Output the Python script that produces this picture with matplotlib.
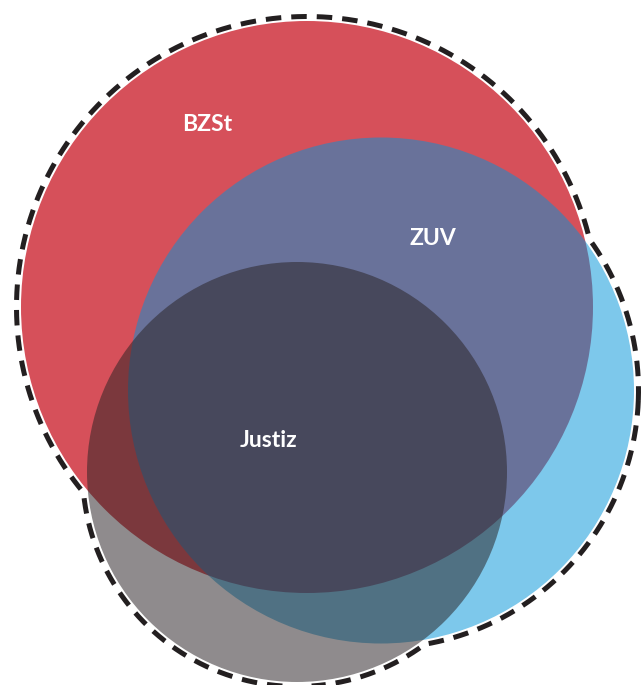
import numpy as np
import matplotlib
matplotlib.use("Agg")
import matplotlib.pyplot as plt
from matplotlib.patches import Circle

# sets: label, centre (px), radius (px)
names = ["BZSt", "ZUV", "Justiz"]
cx = [307, 381, 297]
cy = [307, 390.5, 472]
radii = [286, 253, 210]
label_x = [207, 433, 268.7]
label_y = [130.7, 245, 447]

colors = ["#d6505a", "#0394d8", "#282224"]
alphas = [1.0, 0.512, 0.52]

W, H = 641, 685
fig = plt.figure(figsize=(W / 100, H / 100), dpi=100)
ax = fig.add_axes([0, 0, 1, 1])
ax.set_xlim(0, W)
ax.set_ylim(H, 0)
ax.set_aspect("equal")
ax.axis("off")

for i in range(len(names)):
    ax.add_patch(Circle((cx[i], cy[i]), radii[i], facecolor=colors[i],
                        alpha=alphas[i], edgecolor="none", zorder=i + 1))

# dashed outline around the union, a little outside the circles
pad = 4.5
px, py = 300.0, 400.0
th = np.linspace(0, 2 * np.pi, 2000)
ux, uy = np.cos(th), np.sin(th)
dist = np.zeros_like(th)
for i in range(len(names)):
    dx, dy = cx[i] - px, cy[i] - py
    b = dx * ux + dy * uy
    t = b + np.sqrt((radii[i] + pad) ** 2 - (dx * dx + dy * dy) + b * b)
    dist = np.maximum(dist, t)
ax.plot(px + dist * ux, py + dist * uy, color="#231f20", lw=3.6,
        linestyle=(0, (3.1, 2.0)), dash_capstyle="butt", zorder=10)

for i in range(len(names)):
    ax.text(label_x[i], label_y[i], names[i], color="white", fontsize=16.5,
            fontfamily="Lato", fontweight="bold", ha="center", va="baseline",
            zorder=11)

fig.savefig("out.png", dpi=100)
